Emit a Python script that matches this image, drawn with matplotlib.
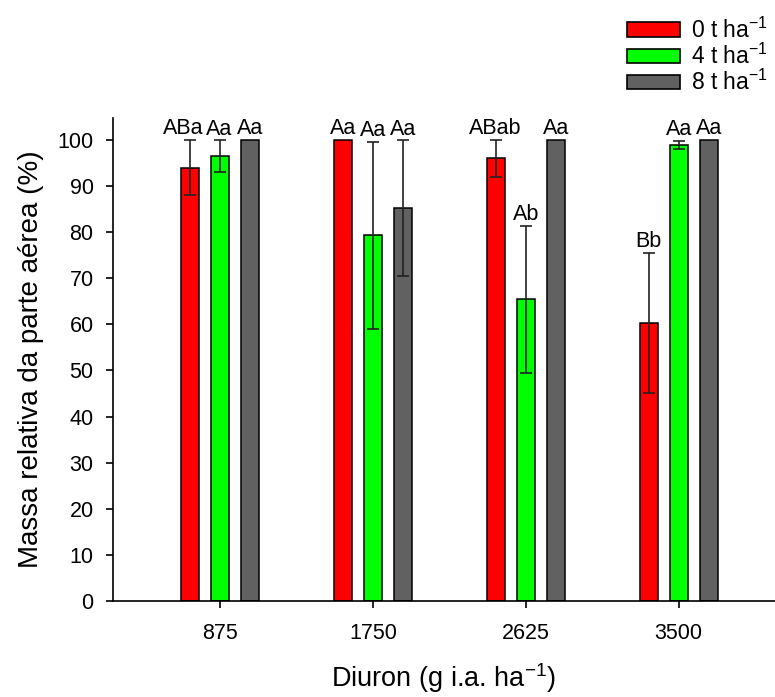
import numpy as np
import matplotlib
matplotlib.use("Agg")
import matplotlib.pyplot as plt
from matplotlib.patches import Patch

plt.rcParams['font.family'] = ['Liberation Sans', 'DejaVu Sans']
plt.rcParams['mathtext.fontset'] = 'custom'
plt.rcParams['mathtext.rm'] = 'Liberation Sans'
plt.rcParams['mathtext.it'] = 'Liberation Sans'

# Dados
doses = ['875', '1750', '2625', '3500']
series = ['0 t ha$^{\\mathrm{-1}}$', '4 t ha$^{\\mathrm{-1}}$', '8 t ha$^{\\mathrm{-1}}$']
cores = ['#FF0000', '#00FF00', '#616161']

massa_0t = [94.0, 100.0, 96.0, 60.3]
massa_4t = [96.5, 79.3, 65.4, 98.9]
massa_8t = [100.0, 85.2, 100.0, 100.0]

erro_0t = [6.0, 0.0, 4.0, 15.2]
erro_4t = [3.4, 20.3, 16.0, 0.9]
erro_8t = [0.0, 14.7, 0.0, 0.0]

letras_0t = ['ABa', 'Aa', 'ABab', 'Bb']
letras_4t = ['Aa', 'Aa', 'Ab', 'Aa']
letras_8t = ['Aa', 'Aa', 'Aa', 'Aa']

valores = [massa_0t, massa_4t, massa_8t]
erros = [erro_0t, erro_4t, erro_8t]
letras = [letras_0t, letras_4t, letras_8t]

# deslocamento horizontal (pt) de algumas letras para não encostar
ajuste = {(0, 0): -5, (1, 0): -1}

fig = plt.figure(figsize=(7.75, 6.97), dpi=100)
ax = fig.add_axes([0.1458, 0.1377, 0.8542, 0.6933])

x = np.arange(len(doses))
largura = 0.118
desloc = 0.197

for i in range(3):
    pos = x + (i - 1) * desloc
    ax.bar(pos, valores[i], width=largura, color=cores[i],
           edgecolor='black', linewidth=1.1, zorder=2)
    err = np.array(erros[i])
    mask = err > 0
    ax.errorbar(pos[mask], np.array(valores[i])[mask], yerr=err[mask],
                fmt='none', ecolor='#222222', elinewidth=1.2,
                capsize=4.5, capthick=1.2, zorder=3)
    for j in range(len(doses)):
        topo = valores[i][j] + erros[i][j]
        dx = ajuste.get((i, j), 0)
        ax.annotate(letras[i][j], (pos[j], topo), xytext=(dx, 0.5),
                    textcoords='offset points', ha='center', va='bottom',
                    fontsize=15.5)

ax.set_xlim(-0.70, 3.63)
ax.set_ylim(0, 104.8)
ax.set_yticks(np.arange(0, 101, 10))
ax.set_xticks(x)
ax.set_xticklabels(doses)
ax.tick_params(axis='both', direction='out', length=5, width=1.2,
               labelsize=15.5)
ax.tick_params(axis='x', pad=11)
ax.tick_params(axis='y', pad=9)

for s in ['top', 'right']:
    ax.spines[s].set_visible(False)
for s in ['left', 'bottom']:
    ax.spines[s].set_linewidth(1.2)

ax.set_ylabel('Massa relativa da parte aérea (%)', fontsize=20, labelpad=10)
ax.set_xlabel('Diuron (g i.a. ha$^{\\mathrm{-1}}$)', fontsize=19.5, labelpad=12)

handles = [Patch(facecolor=c, edgecolor='black', linewidth=1.2) for c in cores]
fig.legend(handles, series, loc='upper right', bbox_to_anchor=(1.0, 0.985),
           frameon=False, fontsize=16.5, handlelength=2.3, handleheight=0.6,
           handletextpad=0.5, labelspacing=0.05, borderpad=0.3,
           borderaxespad=0.0)

fig.savefig('out.png', dpi=100)
